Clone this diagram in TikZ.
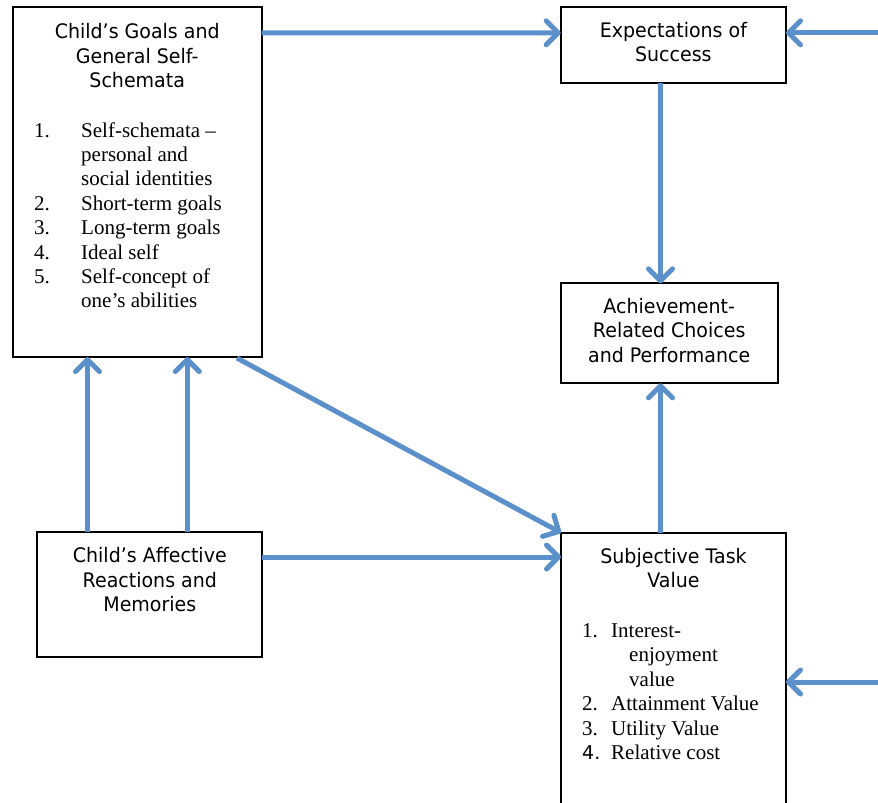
\documentclass[tikz,border=0pt]{standalone}
\usepackage{fontspec}
\setmainfont{Liberation Serif}
\newfontfamily\titlefont[FakeStretch=0.95]{DejaVu Sans}
\newfontfamily\numfont{DejaVu Sans}
\usetikzlibrary{arrows.meta}
\definecolor{arrblue}{RGB}{92,144,202}
\newcommand\mytitle[1]{\begin{tabular}[t]{@{}c@{}}#1\end{tabular}}
\begin{document}
\begin{tikzpicture}[x=1pt,y=-1pt,
  box/.style={draw=black, line width=2pt, inner sep=0pt, outer sep=0pt, fill=white},
  ttl/.style={font=\titlefont\fontsize{20}{24.5}\selectfont, inner sep=0pt, anchor=base},
  lst/.style={font=\fontsize{21}{24.4}\selectfont, inner sep=0pt, anchor=base west},
  arr/.style={draw=arrblue, line width=5pt,
    -{Straight Barb[length=12pt,width=24pt,line cap=round,line join=round]}}]
\useasboundingbox (0,0) rectangle (878,803);
\clip (0,0) rectangle (878,803);
% boxes
\node[box, minimum width=249pt, minimum height=349.7pt] (goals) at (137.2,182.2) {};
\node[box, minimum width=225.3pt, minimum height=75.4pt] (exp) at (673.35,45) {};
\node[box, minimum width=217pt, minimum height=100pt] (ach) at (669.2,333.3) {};
\node[box, minimum width=225pt, minimum height=124.4pt] (aff) at (149.8,594.5) {};
\node[box, minimum width=225pt, minimum height=297.3pt] (subj) at (673.5,681.35) {};
% titles
\node[ttl] (goalsT) at (137.2,38.5) {\mytitle{Child’s Goals and\\General Self-\\Schemata}};
\node[ttl] (expT) at (673.35,37.5) {\mytitle{Expectations of\\Success}};
\node[ttl] (achT) at (669.2,313) {\mytitle{Achievement-\\Related Choices\\and Performance}};
\node[ttl] (affT) at (149.8,562.7) {\mytitle{Child’s Affective\\Reactions and\\Memories}};
\node[ttl] (subjT) at (673.5,563) {\mytitle{Subjective Task\\Value}};
% lists
\node[lst] (goalsL) at (34,137) {\begin{tabular}[t]{@{}p{47pt}@{}l@{}}1.&Self-schemata –\\&personal and\\&social identities\\2.&Short-term goals\\3.&Long-term goals\\4.&Ideal self\\5.&Self-concept of\\&one’s abilities\end{tabular}};
\node[lst] (subjL) at (582,637.5) {\begin{tabular}[t]{@{}p{29pt}@{}l@{}}1.&Interest-\\&\hspace{18pt}enjoyment\\&\hspace{18pt}value\\2.&Attainment Value\\3.&Utility Value\\\numfont\fontsize{19}{24.4}\selectfont 4.&Relative cost\end{tabular}};
% helper coordinates
\coordinate (c660) at (660.5,0);
\coordinate (c88) at (87.5,0);
\coordinate (c187) at (187.3,0);
\coordinate (r1) at (880,32.8);
\coordinate (r2) at (880,682);
\coordinate (y557) at (0,557);
% connectors
\draw[arr] ([yshift=-25.5pt]goals.north east) -- ([yshift=-25.5pt]exp.north west);
\draw[arr] (r1) -- (exp.east |- r1);
\draw[arr] (exp.south -| c660) -- (ach.north -| c660);
\draw[arr] (subj.north -| c660) -- (ach.south -| c660);
\draw[arr] (aff.north -| c88) -- (goals.south -| c88);
\draw[arr] (aff.north -| c187) -- (goals.south -| c187);
\draw[arr] ([xshift=-24.7pt,yshift=-1pt]goals.south east) -- (subj.north west);
\draw[arr] (aff.east |- y557) -- (subj.west |- y557);
\draw[arr] (r2) -- (subj.east |- r2);
\end{tikzpicture}
\end{document}
